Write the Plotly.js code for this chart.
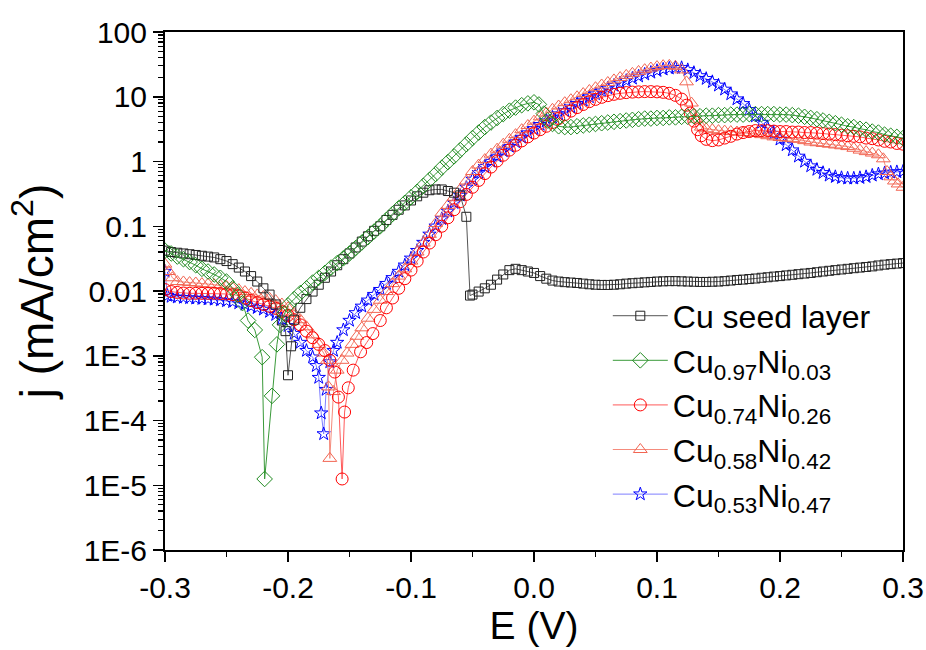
<!DOCTYPE html>
<html>
<head>
<meta charset="utf-8">
<script src="https://cdn.plot.ly/plotly-3.0.1.min.js"></script>
<style>html,body{margin:0;padding:0;background:#fff;}#chart{width:926px;height:650px;}</style>
</head>
<body>
<div id="chart"></div>
<script>
// ---------------- data ----------------
const SERIES_NAMES = ["Cu seed layer",
  "Cu<sub>0.97</sub>Ni<sub>0.03</sub>",
  "Cu<sub>0.74</sub>Ni<sub>0.26</sub>",
  "Cu<sub>0.58</sub>Ni<sub>0.42</sub>",
  "Cu<sub>0.53</sub>Ni<sub>0.47</sub>"];

const E_cu = [-0.300,-0.295,-0.290,-0.285,-0.280,-0.275,-0.270,-0.265,-0.260,-0.255,-0.250,-0.245,-0.240,-0.235,-0.230,-0.225,-0.220,-0.215,-0.210,-0.205,
  -0.202,-0.200,-0.1975,
  -0.195,-0.190,-0.185,-0.180,-0.175,-0.170,-0.165,-0.160,-0.155,-0.150,-0.145,-0.140,-0.135,-0.130,-0.125,-0.120,-0.115,-0.110,-0.105,-0.100,-0.095,-0.090,-0.085,-0.080,-0.075,-0.070,-0.065,-0.060,-0.055,
  -0.052,
  -0.050,-0.045,-0.040,-0.035,-0.030,-0.025,-0.020,-0.015,-0.010,-0.005,
  0.000,0.005,0.010,0.015,0.020,0.025,0.030,0.035,0.040,0.045,0.050,0.055,0.060,0.065,0.070,0.075,0.080,0.085,0.090,0.095,0.100,0.105,0.110,0.115,0.120,0.125,0.130,0.135,0.140,0.145,0.150,0.155,0.160,0.165,0.170,0.175,0.180,0.185,0.190,0.195,0.200,0.205,0.210,0.215,0.220,0.225,0.230,0.235,0.240,0.245,0.250,0.255,0.260,0.265,0.270,0.275,0.280,0.285,0.290,0.295,0.300];
const J_cu = [0.042,0.040,0.039,0.038,0.037,0.036,0.035,0.034,0.033,0.031,0.029,0.026,0.023,0.020,0.017,0.014,0.011,0.0088,0.0062,0.0035,
  0.0024,0.0005,0.0014,
  0.0036,0.0055,0.0075,0.0098,0.0125,0.016,0.020,0.025,0.031,0.038,0.047,0.058,0.070,0.085,0.10,0.125,0.15,0.18,0.21,0.25,0.29,0.33,0.36,0.37,0.37,0.35,0.33,0.30,0.14,
  0.0085,
  0.0088,0.0098,0.011,0.0125,0.015,0.018,0.021,0.022,0.021,0.020,
  0.019,0.017,0.0155,0.0145,0.014,0.0137,0.0135,0.0133,0.013,0.0127,0.0125,0.0124,0.0124,0.0125,0.0127,0.013,0.0132,0.0134,0.0136,0.0138,0.014,0.0141,0.0142,0.0142,0.0141,0.014,0.0139,0.0138,0.0138,0.0139,0.014,0.0142,0.0145,0.0148,0.015,0.0153,0.0156,0.016,0.0163,0.0167,0.017,0.0174,0.0178,0.0182,0.0186,0.019,0.0195,0.020,0.0205,0.021,0.0215,0.022,0.0225,0.023,0.0235,0.024,0.0248,0.0255,0.026,0.0265,0.027];

const E_97 = [-0.300,-0.295,-0.290,-0.285,-0.280,-0.275,-0.270,-0.265,-0.260,-0.255,-0.250,-0.245,
  -0.241,-0.237,-0.2325,-0.227,-0.221,-0.219,-0.213,-0.209,-0.2065,-0.203,-0.200,
  -0.195,-0.190,-0.185,-0.180,-0.175,-0.170,-0.165,-0.160,-0.155,-0.150,-0.145,-0.140,-0.135,-0.130,-0.125,-0.120,-0.115,-0.110,-0.105,-0.100,-0.095,-0.090,-0.085,-0.080,-0.075,-0.070,-0.065,-0.060,-0.055,-0.050,-0.045,-0.040,-0.035,-0.030,-0.025,-0.020,-0.015,-0.010,-0.005,
  0.000,0.004,0.008,0.011,0.015,
  0.020,0.025,0.030,0.035,0.040,0.045,0.050,0.055,0.060,0.065,0.070,0.075,0.080,0.085,0.090,0.095,0.100,0.105,0.110,0.115,0.120,0.125,0.130,0.135,0.140,0.145,0.150,0.155,0.160,0.165,0.170,0.175,0.180,0.185,0.190,0.195,0.200,0.205,0.210,0.215,0.220,0.225,0.230,0.235,0.240,0.245,0.250,0.255,0.260,0.265,0.270,0.275,0.280,0.285,0.290,0.295,0.300];
const J_97 = [0.042,0.038,0.034,0.031,0.028,0.025,0.022,0.020,0.018,0.016,0.014,0.011,
  0.0087,0.0065,0.0035,0.0025,0.00095,0.0000125,0.00024,0.0015,0.003,0.0045,0.006,
  0.0075,0.0093,0.011,0.0135,0.016,0.019,0.023,0.027,0.032,0.038,0.046,0.056,0.068,0.083,0.10,0.125,0.155,0.19,0.23,0.28,0.34,0.42,0.52,0.64,0.8,0.98,1.2,1.5,1.85,2.3,2.8,3.4,4.0,4.7,5.4,6.1,6.8,7.4,7.9,
  8.2,7.6,5.5,4.3,3.8,
  3.5,3.4,3.4,3.5,3.6,3.7,3.8,3.9,4.0,4.1,4.2,4.3,4.4,4.5,4.6,4.6,4.7,4.7,4.8,4.8,4.9,4.9,5.0,5.0,5.1,5.1,5.2,5.2,5.3,5.3,5.3,5.4,5.4,5.4,5.4,5.4,5.3,5.3,5.2,5.1,4.9,4.7,4.5,4.3,4.1,3.9,3.7,3.5,3.4,3.2,3.1,2.9,2.8,2.6,2.5,2.4,2.3];

const E_74 = [-0.300,-0.295,-0.290,-0.285,-0.280,-0.275,-0.270,-0.265,-0.260,-0.255,-0.250,-0.245,-0.240,-0.235,-0.230,-0.225,-0.220,-0.215,-0.210,-0.205,-0.200,-0.195,-0.190,-0.185,-0.180,-0.175,-0.170,
  -0.166,-0.162,-0.159,-0.156,-0.154,-0.151,-0.147,-0.141,-0.136,-0.131,
  -0.125,-0.120,-0.115,-0.110,-0.105,-0.100,-0.095,-0.090,-0.085,-0.080,-0.075,-0.070,-0.065,-0.060,-0.055,-0.050,-0.045,-0.040,-0.035,-0.030,-0.025,-0.020,-0.015,-0.010,-0.005,0.000,0.005,0.010,0.015,0.020,0.025,0.030,0.035,0.040,0.045,0.050,0.055,0.060,0.065,0.070,0.075,0.080,0.085,0.090,0.095,0.100,0.105,0.110,0.115,0.120,
  0.124,0.127,0.130,0.133,0.136,0.140,
  0.145,0.150,0.155,0.160,0.165,0.170,0.175,0.180,0.185,0.190,0.195,0.200,0.205,0.210,0.215,0.220,0.225,0.230,0.235,0.240,0.245,0.250,0.255,0.260,0.265,0.270,0.275,0.280,0.285,0.290,0.295,0.300];
const J_74 = [0.0105,0.0098,0.0095,0.0093,0.0092,0.0092,0.0092,0.0092,0.0092,0.0091,0.009,0.0088,0.0085,0.0078,0.0071,0.0066,0.0062,0.0058,0.0054,0.0048,0.0042,0.0036,0.003,0.0024,0.0019,0.0015,0.0012,
  0.00085,0.00056,0.00023,0.0000125,0.000135,0.00032,0.0006,0.00115,0.0016,0.0022,
  0.0035,0.0055,0.0078,0.011,0.0155,0.021,0.029,0.040,0.055,0.074,0.10,0.135,0.18,0.24,0.31,0.40,0.51,0.65,0.82,1.02,1.25,1.5,1.78,2.08,2.4,2.75,3.1,3.5,4.0,4.6,5.3,6.0,6.8,7.6,8.4,9.1,9.8,10.4,10.9,11.3,11.6,11.8,11.9,12.0,12.0,11.9,11.7,11.3,10.5,9.2,
  7.4,5.6,4.2,3.1,2.5,2.2,
  2.1,2.15,2.3,2.45,2.65,2.8,2.9,3.0,3.0,3.0,2.95,2.9,2.9,2.85,2.85,2.8,2.8,2.75,2.7,2.65,2.6,2.55,2.5,2.45,2.4,2.3,2.25,2.15,2.05,2.0,1.9,1.85];

const E_58 = [-0.300,-0.297,-0.294,
  -0.290,-0.285,-0.280,-0.275,-0.270,-0.265,-0.260,-0.255,-0.250,-0.245,-0.240,-0.235,-0.230,-0.225,-0.220,-0.215,-0.210,-0.205,-0.200,-0.195,-0.190,-0.185,-0.180,-0.175,
  -0.171,-0.168,-0.167,-0.166,-0.163,-0.160,-0.156,-0.152,-0.148,-0.144,-0.140,
  -0.135,-0.130,-0.125,-0.120,-0.115,-0.110,-0.105,-0.100,-0.095,-0.090,-0.085,-0.080,-0.075,-0.070,-0.065,-0.060,-0.055,-0.050,-0.045,-0.040,-0.035,-0.030,-0.025,-0.020,-0.015,-0.010,-0.005,0.000,0.005,0.010,0.015,0.020,0.025,0.030,0.035,0.040,0.045,0.050,0.055,0.060,0.065,0.070,0.075,0.080,0.085,0.090,0.095,0.100,0.105,0.110,0.115,0.120,
  0.124,0.128,0.132,0.136,0.140,
  0.145,0.150,0.155,0.160,0.165,0.170,0.175,0.180,0.185,0.190,0.195,0.200,0.205,0.210,0.215,0.220,0.225,0.230,0.235,0.240,0.245,0.250,0.255,0.260,0.265,0.270,0.275,0.280,
  0.284,0.287,0.290,0.293,0.296,0.300];
const J_58 = [0.026,0.020,0.016,
  0.014,0.0138,0.0135,0.0133,0.013,0.0128,0.0125,0.0122,0.0118,0.0112,0.0105,0.0098,0.0092,0.0087,0.0082,0.0077,0.0071,0.0063,0.0055,0.0045,0.0036,0.0028,0.0021,0.0015,
  0.0011,0.00085,0.00033,0.000026,0.00028,0.0006,0.00085,0.0011,0.0015,0.002,0.0027,
  0.0038,0.0052,0.0072,0.0098,0.013,0.017,0.022,0.029,0.040,0.055,0.075,0.11,0.16,0.21,0.28,0.37,0.5,0.7,0.88,1.07,1.3,1.55,1.85,2.2,2.6,3.1,3.6,4.2,4.9,5.6,6.4,7.2,8.1,9.0,10.0,11.2,12.5,13.8,15.2,16.6,18.2,19.8,21.4,23.0,24.6,26.2,27.8,29.2,30.2,30.5,29.5,26,
  17,8,4.5,3.4,3.2,
  3.1,3.0,2.95,2.9,2.85,2.8,2.75,2.7,2.6,2.5,2.4,2.35,2.3,2.25,2.2,2.1,2.0,1.95,1.9,1.85,1.8,1.75,1.7,1.6,1.5,1.42,1.35,1.27,
  1.1,0.7,0.58,0.5,0.45,0.4];

const E_53 = [-0.300,-0.298,
  -0.295,-0.290,-0.285,-0.280,-0.275,-0.270,-0.265,-0.260,-0.255,-0.250,-0.245,-0.240,-0.235,-0.230,-0.225,-0.220,-0.215,-0.210,-0.205,-0.200,-0.195,-0.190,-0.185,-0.180,
  -0.177,-0.175,-0.173,-0.171,-0.169,-0.166,-0.163,-0.160,
  -0.155,-0.150,-0.145,-0.140,-0.135,-0.130,-0.125,-0.120,-0.115,-0.110,-0.105,-0.100,-0.095,-0.090,-0.085,-0.080,-0.075,-0.070,-0.065,-0.060,-0.055,-0.050,-0.045,-0.040,-0.035,-0.030,-0.025,-0.020,-0.015,-0.010,-0.005,0.000,0.005,0.010,0.015,0.020,0.025,0.030,0.035,0.040,0.045,0.050,0.055,0.060,0.065,0.070,0.075,0.080,0.085,0.090,0.095,0.100,0.105,0.110,0.115,0.120,0.125,0.130,0.135,0.140,0.145,0.150,0.155,0.160,0.165,0.170,0.175,0.180,0.185,0.190,0.195,0.200,0.205,0.210,0.215,0.220,0.225,0.230,0.235,0.240,0.245,0.250,0.255,0.260,0.265,0.270,0.275,0.280,0.285,0.290,0.295,0.300];
const J_53 = [0.02,0.0085,
  0.0082,0.008,0.0079,0.0078,0.0077,0.0076,0.0075,0.0074,0.0072,0.007,0.0068,0.0065,0.0062,0.0058,0.0055,0.0052,0.0048,0.0043,0.0037,0.0029,0.0022,0.0016,0.0012,0.00095,
  0.0007,0.00046,0.00013,0.000062,0.0003,0.0008,0.0012,0.0016,
  0.0025,0.0035,0.0046,0.0058,0.0072,0.0088,0.0105,0.013,0.016,0.02,0.025,0.032,0.042,0.056,0.075,0.1,0.13,0.17,0.23,0.3,0.4,0.53,0.67,0.83,1.0,1.2,1.45,1.7,2.0,2.35,2.75,3.2,3.7,4.2,4.8,5.4,6.1,6.9,7.8,8.8,9.9,11.0,12.2,13.5,14.9,16.3,17.7,19.2,20.7,22.2,23.7,25.2,26.5,27.5,28.2,28.0,26.0,23.5,21.0,19.0,17.0,15.0,13.0,11.0,9.2,7.8,6.3,5.0,4.0,3.3,2.7,2.2,1.8,1.5,1.2,1.0,0.85,0.75,0.67,0.61,0.58,0.56,0.55,0.55,0.56,0.58,0.61,0.64,0.66,0.68,0.69,0.7];

const X_TICKS = [-0.3,-0.2,-0.1,0.0,0.1,0.2,0.3];
const X_LABELS = ["-0.3","-0.2","-0.1","0.0","0.1","0.2","0.3"];
const X_MINOR = [-0.25,-0.15,-0.05,0.05,0.15,0.25];
const Y_TICKS = [1e-6,1e-5,1e-4,1e-3,0.01,0.1,1,10,100];
const Y_LABELS = ["1E-6","1E-5","1E-4","1E-3","0.01","0.1","1","10","100"];

// ---------------- styling ----------------
const FONT = 'Arial, "Liberation Sans", sans-serif';
const yMinor = [];
for (let d = -6; d < 2; d++) for (let k = 2; k <= 9; k++) yMinor.push(k * Math.pow(10, d));
const xTop = X_TICKS.concat(X_MINOR);

const styles = [
  {sym:'square-open',      size:9,  mc:'#222222', lc:'#555555'},
  {sym:'diamond-open',     size:12, mc:'#1f8a1f', lc:'#3a9a3a'},
  {sym:'circle-open',      size:12, mc:'#ff0000', lc:'#ff5a5a'},
  {sym:'triangle-up-open', size:12, mc:'#f26552', lc:'#f58b7c'},
  {sym:'star-open',        size:10, mc:'#0000ff', lc:'#7f7fff'}
];
const XS = [E_cu, E_97, E_74, E_58, E_53];
const YS = [J_cu, J_97, J_74, J_58, J_53];

const mk = i => ({
  type: 'scatter', mode: 'lines+markers',
  x: XS[i], y: YS[i], name: SERIES_NAMES[i],
  legendrank: i + 1,
  line: {color: styles[i].lc, width: 1},
  marker: {symbol: styles[i].sym, size: styles[i].size, color: styles[i].mc, line: {width: 1, color: styles[i].mc}}
});
// drawing order (bottom to top): stars, triangles, circles, squares, diamonds
const traces = [4, 3, 2, 0, 1].map(mk);

const layout = {
  width: 926, height: 650,
  margin: {l: 165, r: 23, t: 32, b: 100},
  paper_bgcolor: '#ffffff', plot_bgcolor: '#ffffff',
  font: {family: FONT, size: 30, color: '#000'},
  showlegend: true,
  legend: {x: 0.6, y: 0.505, xanchor: 'left', yanchor: 'top', bgcolor: 'rgba(0,0,0,0)',
           font: {family: FONT, size: 32, color: '#000'}, itemwidth: 55, traceorder: 'normal'},
  xaxis: {
    range: [-0.3, 0.3], tickmode: 'array', tickvals: X_TICKS, ticktext: X_LABELS,
    ticks: 'outside', ticklen: 10, tickwidth: 1.5, tickcolor: '#000',
    showline: true, linewidth: 2, linecolor: '#000', mirror: true,
    showgrid: false, zeroline: false,
    tickfont: {family: FONT, size: 30},
    minor: {tickmode: 'array', tickvals: X_MINOR, ticks: 'outside', ticklen: 5, tickwidth: 1.5, tickcolor: '#000', showgrid: false},
    title: {text: 'E (V)', font: {family: FONT, size: 39}, standoff: 8}
  },
  xaxis2: {
    overlaying: 'x', side: 'top', anchor: 'y', range: [-0.3, 0.3],
    tickmode: 'array', tickvals: xTop, ticks: 'inside', ticklen: 8, tickwidth: 1.5, tickcolor: '#000',
    showticklabels: false, showline: false, showgrid: false, zeroline: false
  },
  yaxis: {
    type: 'log', range: [-6, 2], tickmode: 'array', tickvals: Y_TICKS, ticktext: Y_LABELS,
    ticks: 'outside', ticklen: 10, tickwidth: 1.5, tickcolor: '#000',
    showline: true, linewidth: 2, linecolor: '#000', mirror: true,
    showgrid: false, zeroline: false,
    tickfont: {family: FONT, size: 30},
    minor: {tickmode: 'array', tickvals: yMinor, ticks: 'outside', ticklen: 5, tickwidth: 1.2, tickcolor: '#000', showgrid: false},
    title: {text: 'j (mA/cm<sup>2</sup>)', font: {family: FONT, size: 46}, standoff: 16}
  },
  yaxis2: {
    type: 'log', overlaying: 'y', side: 'right', anchor: 'x', range: [-6, 2],
    tickmode: 'array', tickvals: Y_TICKS, ticks: 'inside', ticklen: 10, tickwidth: 1.5, tickcolor: '#000',
    showticklabels: false, showline: false, showgrid: false, zeroline: false,
    minor: {tickmode: 'array', tickvals: yMinor, ticks: 'inside', ticklen: 5, tickwidth: 1.2, tickcolor: '#000', showgrid: false}
  }
};

Plotly.newPlot('chart', traces, layout, {displayModeBar: false, staticPlot: true});
</script>
</body>
</html>
